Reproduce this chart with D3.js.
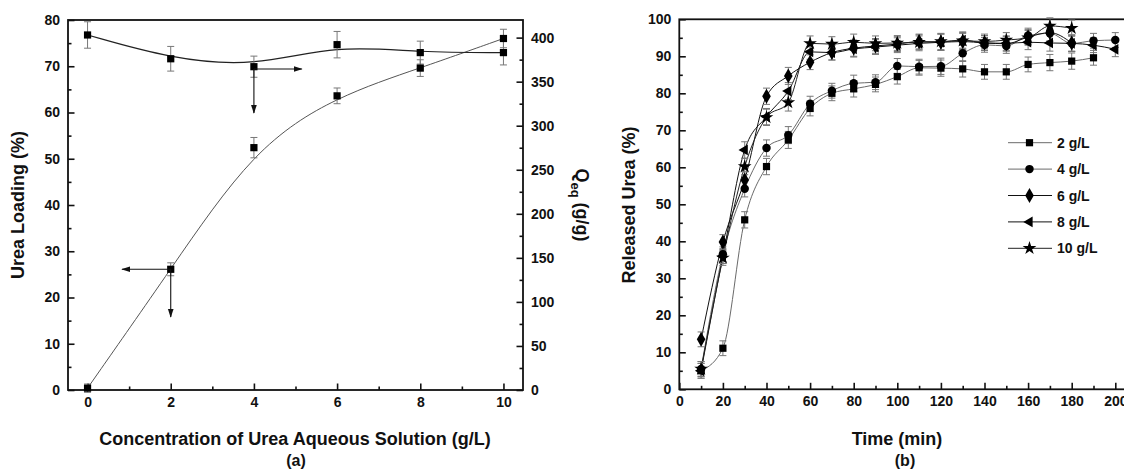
<!DOCTYPE html>
<meta charset='utf-8'>
<head>
  <title>Urea loading and release</title>
  <style>
    body { margin: 0; background: #fff; }
    text { font-family: 'Liberation Sans', Arial, sans-serif; font-weight: bold; fill: #111; }
  </style>
</head>
<body>
  <svg id='chart' width='1124' height='474'></svg>
</body>
<script src='https://d3js.org/d3.v7.min.js'></script>
<script>

// ---- panel (a) data ----
var conc = [0, 2, 4, 6, 8, 10];
var loading = [0.4, 26.1, 52.4, 63.6, 69.6, 76.0];
var loadingErr = [0.9, 1.4, 2.2, 1.7, 1.8, 2.0];
var qeq = [403, 376, 367, 392, 383, 383];
var qeqErr = [15, 14, 12, 15, 13, 14];
// annotation arrows: [x1, y1, x2, y2]
var arrows = [
  [2, 26.1, 0.83, 26.1],
  [2, 26.1, 2, 15.8],
  [4, 69.4, 5.15, 69.4],
  [4, 69.4, 4, 59.9]
];

// ---- panel (b) data ----
var time = [10, 20, 30, 40, 50, 60, 70, 80, 90, 100, 110, 120, 130, 140, 150, 160, 170, 180, 190, 200];
var rel2 = [5.0, 11.1, 45.8, 60.2, 67.4, 75.9, 80.0, 81.2, 82.4, 84.5, 86.9, 86.8, 86.6, 85.8, 85.8, 87.8, 88.3, 88.7, 89.6, null];
var rel4 = [5.5, 36.5, 54.2, 65.2, 68.7, 77.2, 80.7, 82.7, 83.0, 87.4, 87.2, 87.3, 90.8, 93.1, 92.8, 95.6, 96.2, 93.5, 94.2, 94.4];
var rel6 = [13.5, 39.8, 56.6, 79.2, 84.7, 88.4, 91.0, 92.2, 92.8, 93.3, 94.0, 93.8, 94.0, 93.6, 93.4, 95.2, 96.4, 93.6, null, null];
var rel8 = [5.0, 36.0, 64.7, 73.7, 80.6, 91.2, 91.0, 92.0, 92.5, 93.0, 93.5, 93.8, 94.4, 93.6, 93.5, 93.8, 93.6, 93.5, 93.0, 91.9];
var rel10 = [5.5, 35.5, 60.2, 73.5, 77.5, 93.5, 93.3, 93.8, 93.5, 93.6, 93.8, 94.0, 94.2, 94.0, 94.4, 95.0, 98.2, 97.6, null, null];
var relErr = [2.0, 2.0, 2.2, 2.2, 2.3, 2.0, 2.0, 2.2, 2.0, 2.0, 2.0, 2.2, 2.2, 2.0, 2.0, 2.0, 2.2, 2.2, 2.0, 2.0];
var seriesNames = ['2 g/L', '4 g/L', '6 g/L', '8 g/L', '10 g/L'];
var seriesVals = [rel2, rel4, rel6, rel8, rel10];
var seriesSym = [d3.symbolSquare, d3.symbolCircle, d3.symbolDiamond, d3.symbolTriangle, d3.symbolStar];
var seriesLine = ['#6a6a6a', '#6a6a6a', '#111', '#111', '#222'];

var svg = d3.select('#chart');

var defs = svg.append('defs');
defs.append('marker')
    .attr('id', 'head')
    .attr('viewBox', '0 0 10 10')
    .attr('refX', 9).attr('refY', 5)
    .attr('markerWidth', 9).attr('markerHeight', 9)
    .attr('markerUnits', 'userSpaceOnUse')
    .attr('orient', 'auto')
  .append('path')
    .attr('d', 'M0,1.8 L10,5 L0,8.2 Z')
    .attr('fill', '#111');
defs.append('clipPath').attr('id', 'clipB')
  .append('rect').attr('x', 0).attr('y', 0).attr('width', 1124).attr('height', 474);

function styleAxis(g) {
  g.select('.domain').remove();
  g.selectAll('.tick line').attr('stroke', '#111').attr('stroke-width', 1.6);
  g.selectAll('.tick text').style('font-size', '14px').attr('fill', '#111');
}

function symbolPath(sym, size) {
  return d3.symbol().type(sym).size(size)();
}

// =============== panel (a) ===============
var ax = {l: 68, r: 523, t: 20, b: 390};
var xA = d3.scaleLinear().domain([-0.47, 10.47]).range([ax.l, ax.r]);
var yA = d3.scaleLinear().domain([0, 80]).range([ax.b, ax.t]);
var yQ = d3.scaleLinear().domain([0, 420]).range([ax.b, ax.t]);

var gA = svg.append('g');

gA.append('g').attr('transform', 'translate(0,' + ax.b + ')')
    .call(d3.axisBottom(xA).tickValues([0, 2, 4, 6, 8, 10]).tickSizeInner(-6.5).tickSizeOuter(0).tickPadding(7))
    .call(styleAxis);
gA.append('g').attr('transform', 'translate(0,' + ax.b + ')')
    .call(d3.axisBottom(xA).tickValues([1, 3, 5, 7, 9]).tickSizeInner(-3.5).tickSizeOuter(0).tickFormat(''))
    .call(styleAxis);
gA.append('g').attr('transform', 'translate(' + ax.l + ',0)')
    .call(d3.axisLeft(yA).tickValues(d3.range(0, 81, 10)).tickSizeInner(-6.5).tickSizeOuter(0).tickPadding(8))
    .call(styleAxis);
gA.append('g').attr('transform', 'translate(' + ax.l + ',0)')
    .call(d3.axisLeft(yA).tickValues(d3.range(5, 80, 10)).tickSizeInner(-3.5).tickSizeOuter(0).tickFormat(''))
    .call(styleAxis);
gA.append('g').attr('transform', 'translate(' + ax.r + ',0)')
    .call(d3.axisRight(yQ).tickValues(d3.range(0, 401, 50)).tickSizeInner(-6.5).tickSizeOuter(0).tickPadding(8))
    .call(styleAxis);
gA.append('g').attr('transform', 'translate(' + ax.r + ',0)')
    .call(d3.axisRight(yQ).tickValues(d3.range(25, 420, 50)).tickSizeInner(-3.5).tickSizeOuter(0).tickFormat(''))
    .call(styleAxis);

gA.append('rect')
    .attr('x', ax.l).attr('y', ax.t)
    .attr('width', ax.r - ax.l).attr('height', ax.b - ax.t)
    .attr('fill', 'none').attr('stroke', '#111').attr('stroke-width', 1.8);

var lineA = d3.line().curve(d3.curveBasis);

gA.append('path')
    .attr('d', lineA(conc.map(function(c, i) { return [xA(c), yA(loading[i])]; })))
    .attr('fill', 'none').attr('stroke', '#555').attr('stroke-width', 1);
gA.append('path')
    .attr('d', lineA(conc.map(function(c, i) { return [xA(c), yQ(qeq[i])]; })))
    .attr('fill', 'none').attr('stroke', '#222').attr('stroke-width', 1.2);

function errBars(g, xs, ys, es, xs_, ys_, cap) {
  xs.forEach(function(x, i) {
    if (ys[i] == null) return;
    var px = xs_(x), lo = ys_(ys[i] - es[i]), hi = ys_(ys[i] + es[i]);
    g.append('line').attr('x1', px).attr('x2', px).attr('y1', lo).attr('y2', hi);
    g.append('line').attr('x1', px - cap).attr('x2', px + cap).attr('y1', lo).attr('y2', lo);
    g.append('line').attr('x1', px - cap).attr('x2', px + cap).attr('y1', hi).attr('y2', hi);
  });
}

var ebA = gA.append('g').attr('stroke', '#777').attr('stroke-width', 1);
errBars(ebA, conc, loading, loadingErr, xA, yA, 3.5);
errBars(ebA, conc, qeq, qeqErr, xA, yQ, 3.5);

gA.selectAll('path.mL').data(conc).enter().append('path')
    .attr('d', symbolPath(d3.symbolSquare, 52))
    .attr('transform', function(c, i) { return 'translate(' + xA(c) + ',' + yA(loading[i]) + ')'; })
    .attr('fill', '#000');
gA.selectAll('path.mQ').data(conc).enter().append('path')
    .attr('d', symbolPath(d3.symbolSquare, 52))
    .attr('transform', function(c, i) { return 'translate(' + xA(c) + ',' + yQ(qeq[i]) + ')'; })
    .attr('fill', '#000');

gA.selectAll('line.arrow').data(arrows).enter().append('line')
    .attr('x1', function(d) { return xA(d[0]); })
    .attr('y1', function(d) { return yA(d[1]); })
    .attr('x2', function(d) { return xA(d[2]); })
    .attr('y2', function(d) { return yA(d[3]); })
    .attr('stroke', '#111').attr('stroke-width', 1.1)
    .attr('marker-end', 'url(#head)');

gA.append('text')
    .attr('transform', 'translate(24,205) rotate(-90)')
    .attr('text-anchor', 'middle')
    .style('font-size', '18px')
    .text('Urea Loading (%)');
var qt = gA.append('text')
    .attr('transform', 'translate(576,205) rotate(90)')
    .attr('text-anchor', 'middle')
    .style('font-size', '18px');
qt.append('tspan').text('Q');
qt.append('tspan').attr('dy', 5).style('font-size', '13px').text('eq');
qt.append('tspan').attr('dy', -5).text(' (g/g)');

gA.append('text')
    .attr('x', 295).attr('y', 445)
    .attr('text-anchor', 'middle').style('font-size', '18px')
    .text('Concentration of Urea Aqueous Solution (g/L)');
gA.append('text')
    .attr('x', 296).attr('y', 466)
    .attr('text-anchor', 'middle').style('font-size', '16px')
    .text('(a)');

// =============== panel (b) ===============
var bx = {l: 679.3, r: 1140, t: 19.3, b: 389.3};
var xB = d3.scaleLinear().domain([0, 200]).range([679.3, 1115.3]);
var yB = d3.scaleLinear().domain([0, 100]).range([bx.b, bx.t]);

var gB = svg.append('g').attr('clip-path', 'url(#clipB)');

gB.append('g').attr('transform', 'translate(0,' + bx.b + ')')
    .call(d3.axisBottom(xB).tickValues(d3.range(0, 201, 20)).tickSizeInner(-6.5).tickSizeOuter(0).tickPadding(7))
    .call(styleAxis);
gB.append('g').attr('transform', 'translate(0,' + bx.b + ')')
    .call(d3.axisBottom(xB).tickValues(d3.range(10, 200, 20)).tickSizeInner(-3.5).tickSizeOuter(0).tickFormat(''))
    .call(styleAxis);
gB.append('g').attr('transform', 'translate(' + bx.l + ',0)')
    .call(d3.axisLeft(yB).tickValues(d3.range(0, 101, 10)).tickSizeInner(-6.5).tickSizeOuter(0).tickPadding(8))
    .call(styleAxis);
gB.append('g').attr('transform', 'translate(' + bx.l + ',0)')
    .call(d3.axisLeft(yB).tickValues(d3.range(5, 100, 10)).tickSizeInner(-3.5).tickSizeOuter(0).tickFormat(''))
    .call(styleAxis);

gB.append('rect')
    .attr('x', bx.l).attr('y', bx.t)
    .attr('width', bx.r - bx.l).attr('height', bx.b - bx.t)
    .attr('fill', 'none').attr('stroke', '#111').attr('stroke-width', 1.8);

var lineB = d3.line()
    .defined(function(d) { return d[1] != null; })
    .x(function(d) { return xB(d[0]); })
    .y(function(d) { return yB(d[1]); })
    .curve(d3.curveMonotoneX);

seriesVals.forEach(function(vals, k) {
  gB.append('path')
      .attr('d', lineB(time.map(function(t, i) { return [t, vals[i]]; })))
      .attr('fill', 'none').attr('stroke', seriesLine[k]).attr('stroke-width', 1);
});

var ebB = gB.append('g').attr('stroke', '#777').attr('stroke-width', 1);
seriesVals.forEach(function(vals) {
  errBars(ebB, time, vals, relErr, xB, yB, 3.5);
});

function markerTransform(k, x, y) {
  var s = 'translate(' + x + ',' + y + ')';
  if (seriesSym[k] === d3.symbolTriangle) s += ' rotate(-90)';
  return s;
}
var symSize = [52, 56, 64, 50, 58];

seriesVals.forEach(function(vals, k) {
  gB.selectAll('path.m' + k)
      .data(time.filter(function(t, i) { return vals[i] != null; }))
    .enter().append('path')
      .attr('d', symbolPath(seriesSym[k], symSize[k]))
      .attr('transform', function(t) { return markerTransform(k, xB(t), yB(vals[time.indexOf(t)])); })
      .attr('fill', '#000');
});

// legend
var leg = gB.append('g');
seriesNames.forEach(function(name, k) {
  var y = 142.7 + k * 26.4;
  leg.append('line').attr('x1', 1008).attr('x2', 1052).attr('y1', y).attr('y2', y)
      .attr('stroke', seriesLine[k]).attr('stroke-width', 1);
  leg.append('path').attr('d', symbolPath(seriesSym[k], symSize[k]))
      .attr('transform', markerTransform(k, 1029.5, y)).attr('fill', '#000');
  leg.append('text').attr('x', 1057).attr('y', y + 5)
      .style('font-size', '14px').text(name);
});

svg.append('text')
    .attr('transform', 'translate(635,205) rotate(-90)')
    .attr('text-anchor', 'middle').style('font-size', '18px')
    .text('Released Urea (%)');
svg.append('text')
    .attr('x', 897).attr('y', 445)
    .attr('text-anchor', 'middle').style('font-size', '18px')
    .text('Time (min)');
svg.append('text')
    .attr('x', 905).attr('y', 466)
    .attr('text-anchor', 'middle').style('font-size', '16px')
    .text('(b)');

</script>
